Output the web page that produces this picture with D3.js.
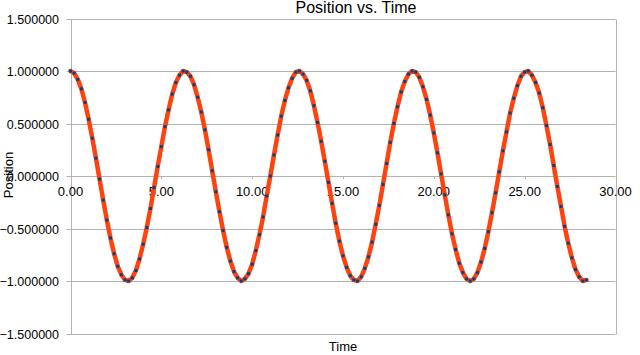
<!DOCTYPE html>
<html><head><meta charset="utf-8">
<script src="https://cdn.jsdelivr.net/npm/d3@7"></script>
<style>
html,body{margin:0;padding:0;background:#fff;}
svg{display:block;font-family:"Liberation Sans",Arial,sans-serif;}
</style></head>
<body><svg id="c" width="640" height="355"></svg>
<script>
const times = [0.0,0.2,0.4,0.6,0.8,1.0,1.2,1.4,1.6,1.8,2.0,2.2,2.4,2.6,2.8,3.0,3.2,3.4,3.6,3.8,
4.0,4.2,4.4,4.6,4.8,5.0,5.2,5.4,5.6,5.8,6.0,6.2,6.4,6.6,6.8,7.0,7.2,7.4,7.6,7.8,
8.0,8.2,8.4,8.6,8.8,9.0,9.2,9.4,9.6,9.8,10.0,10.2,10.4,10.6,10.8,11.0,11.2,11.4,11.6,11.8,
12.0,12.2,12.4,12.6,12.8,13.0,13.2,13.4,13.6,13.8,14.0,14.2,14.4,14.6,14.8,15.0,15.2,15.4,15.6,15.8,
16.0,16.2,16.4,16.6,16.8,17.0,17.2,17.4,17.6,17.8,18.0,18.2,18.4,18.6,18.8,19.0,19.2,19.4,19.6,19.8,
20.0,20.2,20.4,20.6,20.8,21.0,21.2,21.4,21.6,21.8,22.0,22.2,22.4,22.6,22.8,23.0,23.2,23.4,23.6,23.8,
24.0,24.2,24.4,24.6,24.8,25.0,25.2,25.4,25.6,25.8,26.0,26.2,26.4,26.6,26.8,27.0,27.2,27.4,27.6,27.8,
28.0,28.2,28.4];
const positions = [1.00,0.98,0.92,0.83,0.70,0.54,0.36,0.17,-0.03,-0.23,-0.42,-0.59,-0.74,-0.86,-0.94,-0.99,-1.00,-0.97,-0.90,-0.79,
-0.65,-0.49,-0.31,-0.11,0.09,0.28,0.47,0.63,0.78,0.89,0.96,1.00,0.99,0.95,0.87,0.75,0.61,0.44,0.25,0.05,
-0.15,-0.34,-0.52,-0.68,-0.81,-0.91,-0.97,-1.00,-0.98,-0.93,-0.84,-0.71,-0.56,-0.39,-0.19,0.00,0.20,0.39,0.57,0.72,
0.84,0.93,0.99,1.00,0.97,0.91,0.81,0.67,0.51,0.33,0.14,-0.06,-0.26,-0.45,-0.62,-0.76,-0.87,-0.95,-0.99,-1.00,
-0.96,-0.88,-0.77,-0.63,-0.46,-0.28,-0.08,0.12,0.32,0.50,0.66,0.80,0.90,0.97,1.00,0.99,0.94,0.85,0.73,0.58,
0.41,0.22,0.02,-0.18,-0.37,-0.55,-0.70,-0.83,-0.92,-0.98,-1.00,-0.98,-0.92,-0.82,-0.69,-0.53,-0.35,-0.16,0.04,0.24,
0.42,0.60,0.74,0.86,0.95,0.99,1.00,0.96,0.89,0.79,0.65,0.48,0.30,0.10,-0.10,-0.29,-0.48,-0.64,-0.78,-0.89,
-0.96,-1.00,-0.99];
const xTicks = [0,5,10,15,20,25,30];
const yTicks = [-1.5,-1.0,-0.5,0,0.5,1.0,1.5];
const title = "Position vs. Time";
const xTitle = "Time";
const yTitle = "Position";

const svg = d3.select("#c");
const x = d3.scaleLinear().domain([0,30]).range([70.5,615.5]);
const y = d3.scaleLinear().domain([-1.5,1.5]).range([333.5,18.5]);
const grid = "#b3b3b3";
const data = times.map((t,i)=>({t, v: positions[i]}));

// horizontal gridlines
svg.append("g").selectAll("line").data(yTicks).join("line")
  .attr("x1", x(0)-4).attr("x2", x(30))
  .attr("y1", d=>Math.round(y(d))+0.5).attr("y2", d=>Math.round(y(d))+0.5)
  .attr("stroke", grid).attr("stroke-width",1);
// right border
svg.append("line").attr("x1",Math.round(x(30))+0.5).attr("x2",Math.round(x(30))+0.5)
  .attr("y1",Math.round(y(1.5))+0.5).attr("y2",Math.round(y(-1.5))+0.5).attr("stroke",grid);
// y axis line
svg.append("line").attr("x1",Math.round(x(0))+0.5).attr("x2",Math.round(x(0))+0.5)
  .attr("y1",Math.round(y(1.5))+0.5).attr("y2",Math.round(y(-1.5))+0.5).attr("stroke",grid);
// x tick marks at y=0
svg.append("g").selectAll("line").data(xTicks).join("line")
  .attr("x1", d=>Math.round(x(d))+0.5).attr("x2", d=>Math.round(x(d))+0.5)
  .attr("y1", Math.round(y(0))).attr("y2", Math.round(y(0))+3)
  .attr("stroke", grid);

// y tick labels
svg.append("g").selectAll("text").data(yTicks).join("text")
  .attr("x", 59).attr("y", d=>y(d)+5)
  .attr("text-anchor","end").attr("font-size",12.5).attr("fill","#000")
  .text(d=>d3.format(".6f")(d));
// x tick labels
svg.append("g").selectAll("text").data(xTicks).join("text")
  .attr("x", d=>x(d)).attr("y", 196)
  .attr("text-anchor","middle").attr("font-size",13).attr("fill","#000")
  .text(d=>d3.format(".2f")(d));

// series line
const line = d3.line().x(d=>x(d.t)).y(d=>y(d.v));
svg.append("path").datum(data).attr("d", line)
  .attr("fill","none").attr("stroke","#ff420e").attr("stroke-width",4.5)
  .attr("stroke-linejoin","round").attr("stroke-linecap","round");
// markers
svg.append("g").selectAll("rect").data(data).join("rect")
  .attr("x", d=>x(d.t)-1.5).attr("y", d=>y(d.v)-1.5)
  .attr("width",3).attr("height",3).attr("fill","#004586");

// titles
svg.append("text").attr("x",356).attr("y",13).attr("text-anchor","middle")
  .attr("font-size",16).attr("fill","#000").text(title);
svg.append("text").attr("x",343).attr("y",351).attr("text-anchor","middle")
  .attr("font-size",13).attr("fill","#000").text(xTitle);
svg.append("text").attr("transform","translate(13,175) rotate(-90)")
  .attr("text-anchor","middle").attr("font-size",13).attr("fill","#000").text(yTitle);
</script></body></html>
